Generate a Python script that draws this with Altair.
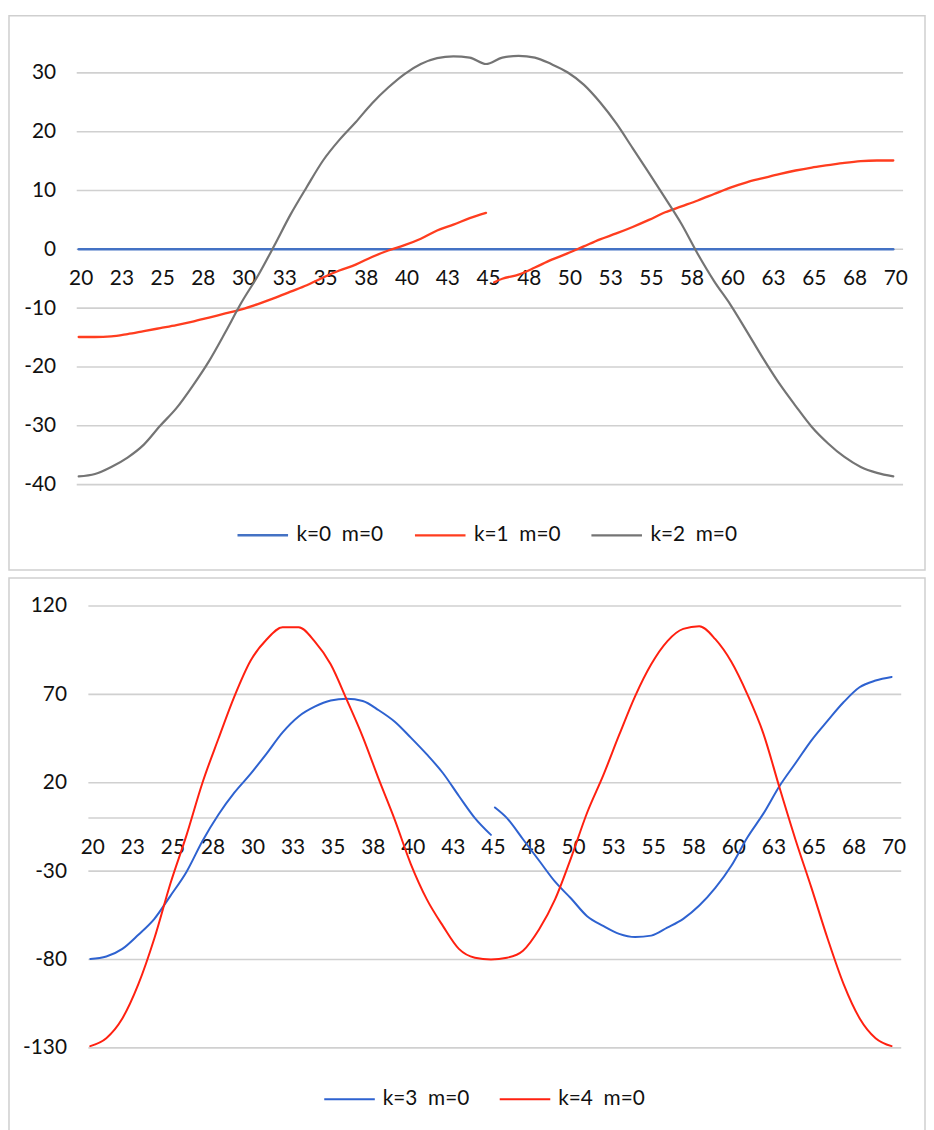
import altair as alt
import pandas as pd

# ---------------- data ----------------
X_FULL = list(range(20, 71))
X_TICKS = [20, 22.5, 25, 27.5, 30, 32.5, 35, 37.5, 40, 42.5, 45,
           47.5, 50, 52.5, 55, 57.5, 60, 62.5, 65, 67.5, 70]

# top panel
K0 = [0.0] * 51
K1_A_X = list(range(20, 46))
K1_A = [-14.9, -14.9, -14.8, -14.4, -13.9, -13.4, -12.9, -12.3, -11.6, -10.9,
        -10.2, -9.3, -8.3, -7.2, -6.1, -4.8, -3.6, -2.6, -1.3, -0.2,
        0.7, 1.8, 3.2, 4.2, 5.3, 6.2]
K1_B_X = [45.5] + list(range(46, 71))
K1_B = [-5.6, -5.0, -4.3, -3.1, -1.8, -0.7, 0.5, 1.7, 2.7, 3.8,
        5.0, 6.3, 7.3, 8.3, 9.4, 10.5, 11.4, 12.1, 12.8, 13.4,
        13.9, 14.3, 14.7, 15.0, 15.1, 15.1]
K2 = [-38.6, -38.2, -37.0, -35.4, -33.2, -30.0, -27.0, -23.2, -19.0, -14.1,
      -9.0, -4.5, 0.6, 5.9, 10.6, 15.1, 18.6, 21.6, 24.8, 27.5,
      29.8, 31.5, 32.5, 32.8, 32.6, 31.5, 32.6, 32.9, 32.6, 31.5,
      30.1, 28.0, 25.0, 21.4, 17.2, 13.0, 8.7, 4.3, -0.8, -5.4,
      -9.4, -13.9, -18.5, -22.8, -26.6, -30.2, -33.0, -35.3, -37.0, -38.0,
      -38.6]

# bottom panel
K3_A_X = list(range(20, 46))
K3_A = [-79.7, -78.3, -74.0, -66.0, -57.0, -44.0, -30.5, -13.0, 2.0, 14.5,
        25.0, 36.5, 48.5, 57.5, 63.0, 66.5, 67.5, 66.2, 61.0, 54.5,
        45.5, 36.0, 25.5, 12.5, 0.0, -9.5]
K3_B_X = [45.25] + list(range(46, 71))
K3_B = [6.0, 0.0, -12.0, -24.0, -36.0, -45.5, -55.5, -61.0, -65.5, -67.3,
        -66.5, -62.0, -57.0, -49.5, -39.5, -27.0, -11.0, 2.5, 18.0, 31.0,
        44.0, 55.0, 65.5, 74.0, 77.8, 79.8]
K4 = [-129.0, -124.5, -113.4, -94.0, -68.0, -37.0, -9.8, 20.0, 45.0, 69.0,
      89.0, 101.0, 108.0, 108.0, 100.0, 87.0, 67.0, 46.0, 22.0, -1.0,
      -26.0, -46.0, -61.0, -74.0, -79.0, -80.0, -79.0, -75.0, -63.0, -46.0,
      -22.5, 3.0, 24.0, 47.0, 69.0, 87.0, 100.0, 107.0, 108.5, 101.2,
      88.4, 70.0, 47.8, 17.4, -12.1, -39.5, -68.0, -93.8, -113.2, -124.5,
      -129.0]

TOP_NAMES = ["k=0\u00a0 m=0", "k=1\u00a0 m=0", "k=2\u00a0 m=0"]
BOT_NAMES = ["k=3\u00a0 m=0", "k=4\u00a0 m=0"]
TOP_COLORS = ["#4472C4", "#FF3D1F", "#747474"]
BOT_COLORS = ["#2E62D0", "#FF2010"]
TOP_WIDTHS = [2.5, 2.2, 1.3]
BOT_WIDTHS = [2.0, 2.0]

TOP_YTICKS = [-40, -30, -20, -10, 0, 10, 20, 30]
BOT_YTICKS = [-130, -80, -30, 20, 70, 120]
GRID_X0, GRID_X1 = 19.88, 70.6

FONT = "Lato"
FS = 21
W, H = 924, 559


def rows(name, seg, xs, ys):
    return [{"series": name, "seg": seg, "x": a, "v": b} for a, b in zip(xs, ys)]


top_df = pd.DataFrame(
    rows(TOP_NAMES[0], "a", X_FULL, K0)
    + rows(TOP_NAMES[1], "a", K1_A_X, K1_A)
    + rows(TOP_NAMES[1], "b", K1_B_X, K1_B)
    + rows(TOP_NAMES[2], "a", X_FULL, K2)
)
bot_df = pd.DataFrame(
    rows(BOT_NAMES[0], "a", K3_A_X, K3_A)
    + rows(BOT_NAMES[0], "b", K3_B_X, K3_B)
    + rows(BOT_NAMES[1], "a", X_FULL, K4)
)


def panel(df, names, colors, widths, yticks, grid_vals, xdom, ydom,
          x_off, y_off, leg_x, leg_y):
    xscale = alt.Scale(domain=xdom, nice=False, zero=False)
    yscale = alt.Scale(domain=ydom, nice=False, zero=False)
    xaxis = alt.Axis(values=X_TICKS, labelExpr="'' + round(datum.value)", orient="bottom",
                     offset=x_off, ticks=False, domain=False, grid=False, title=None,
                     labelPadding=0, labelBaseline="middle", labelFont=FONT,
                     labelFontSize=FS, labelColor="#111111", labelFlush=False,
                     labelOverlap=False, labelOffset=2)
    yaxis = alt.Axis(values=yticks, labelExpr="'' + datum.value", orient="left",
                     offset=y_off, ticks=False,
                     domain=False, grid=False, title=None, labelPadding=0,
                     labelAlign="right", labelBaseline="middle", labelFont=FONT,
                     labelFontSize=FS, labelColor="#111111", labelFlush=False,
                     labelOverlap=False)
    gdf = pd.DataFrame({"x0": [GRID_X0] * len(grid_vals),
                        "x1": [GRID_X1] * len(grid_vals), "v": grid_vals})
    grid = alt.Chart(gdf).mark_rule(color="#d0d0d0", strokeWidth=1.6).encode(
        x=alt.X("x0:Q", scale=xscale, axis=xaxis),
        x2="x1:Q",
        y=alt.Y("v:Q", scale=yscale, axis=yaxis),
    )
    lines = alt.Chart(df).mark_line(strokeJoin="round", strokeCap="round",
                                    interpolate="monotone").encode(
        x=alt.X("x:Q", scale=xscale, axis=xaxis),
        y=alt.Y("v:Q", scale=yscale, axis=yaxis),
        color=alt.Color("series:N", sort=names,
                        scale=alt.Scale(domain=names, range=colors),
                        legend=alt.Legend(orient="none", legendX=leg_x, legendY=leg_y,
                                          direction="horizontal", title=None,
                                          symbolType="stroke", symbolSize=2601,
                                          symbolStrokeWidth=2.5, labelFont=FONT,
                                          labelFontSize=FS, labelColor="#111111",
                                          labelOffset=7, columnPadding=26, padding=0)),
        strokeWidth=alt.StrokeWidth("series:N",
                                    scale=alt.Scale(domain=names, range=widths),
                                    legend=None),
        detail="seg:N",
    )
    return alt.layer(grid, lines).properties(width=W, height=H)


top = panel(top_df, TOP_NAMES, TOP_COLORS, TOP_WIDTHS, TOP_YTICKS, TOP_YTICKS,
            [15.722, 71.947], [-54.52, 39.69], -294, -47, 229, 497)
bot = panel(bot_df, BOT_NAMES, BOT_COLORS, BOT_WIDTHS, BOT_YTICKS, BOT_YTICKS + [0],
            [14.927, 72.085], [-177.68, 135.84], -287, -58, 317, 499)

chart = alt.vconcat(top, bot, spacing=6).resolve_scale(
    x="independent", y="independent", color="independent", strokeWidth="independent"
).properties(
    padding={"left": 0, "top": 2, "right": 0, "bottom": 0},
    background="white",
).configure_view(stroke="#cfcfcf", strokeWidth=1.5)

chart.save("out.html", embed_options={"renderer": "svg", "actions": False})
